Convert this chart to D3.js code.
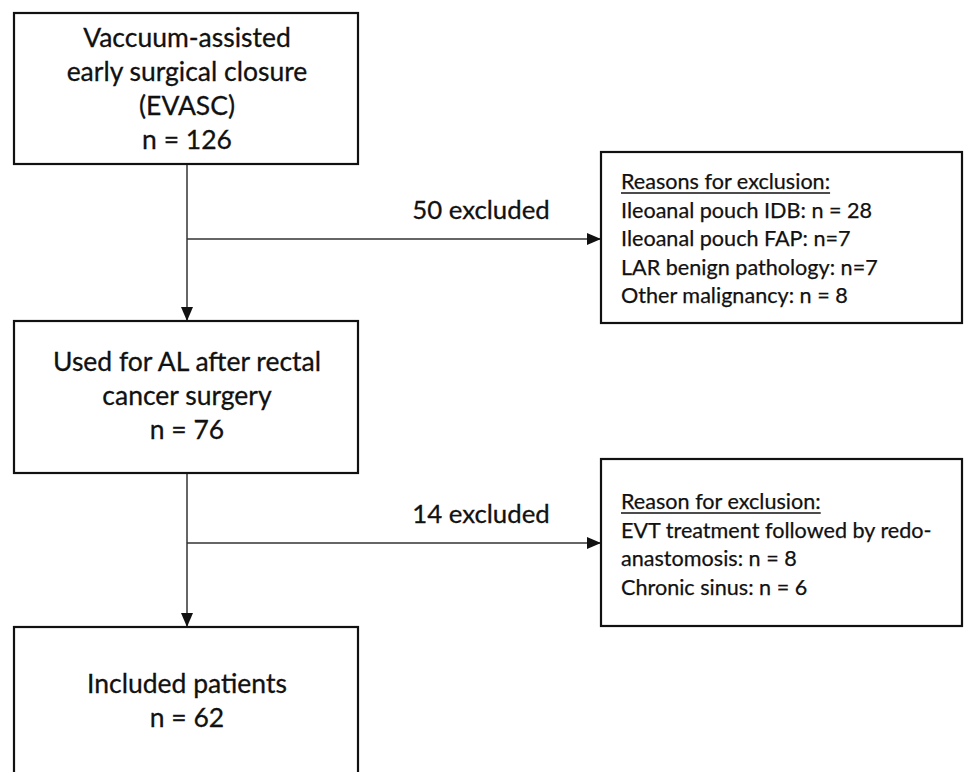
<!DOCTYPE html>
<html>
<head>
<meta charset="utf-8">
<script src="https://cdn.jsdelivr.net/npm/d3@7"></script>
<style>
  body { margin: 0; background: #fff; }
  svg { display: block; }
</style>
</head>
<body>
<div id="chart"></div>
<script>
// contenu du diagramme
var mainLabels = [
    ["Vaccuum-assisted", "early surgical closure", "(EVASC)"],
    ["Used for AL after rectal", "cancer surgery"],
    ["Included patients"]
];
var mainCounts = [126, 76, 62];

var excludedCounts = [50, 14];
var exclusionTitles = ["Reasons for exclusion:", "Reason for exclusion:"];
var exclusionLines = [
    ["Ileoanal pouch IDB: n = 28", "Ileoanal pouch FAP: n=7", "LAR benign pathology: n=7", "Other malignancy: n = 8"],
    ["EVT treatment followed by redo-", "anastomosis: n = 8", "Chronic sinus: n = 6"]
];

var width = 964,
    height = 772,
    font = "Lato, 'Open Sans', sans-serif";

var svg = d3.select("#chart").append("svg")
    .attr("width", width)
    .attr("height", height);

// grille de placement (pixels de l'image)
var x = d3.scaleLinear().domain([0, 1]).range([14, 358]);      // colonne principale
var xs = d3.scaleLinear().domain([0, 1]).range([601, 962]);    // colonne des exclusions
var mainTop = [13, 321, 627], mainBottom = [164, 473, 800];
var sideTop = [152, 459], sideBottom = [323, 626];
var arrowY = [239, 543];
var stem = 187;

svg.append("defs").append("marker")
    .attr("id", "tri")
    .attr("viewBox", "0 0 14 12")
    .attr("refX", 14).attr("refY", 6)
    .attr("markerWidth", 14).attr("markerHeight", 12)
    .attr("markerUnits", "userSpaceOnUse")
    .attr("orient", "auto")
    .append("path")
    .attr("d", "M0,0 L14,6 L0,12 Z")
    .attr("fill", "#111");

// fleches
var links = svg.append("g")
    .attr("stroke", "#333")
    .attr("stroke-width", 1.5);

for (var i = 0; i < 2; i++) {
    links.append("line")
        .attr("x1", stem).attr("y1", mainBottom[i])
        .attr("x2", stem).attr("y2", mainTop[i + 1])
        .attr("marker-end", "url(#tri)");
    links.append("line")
        .attr("x1", stem).attr("y1", arrowY[i])
        .attr("x2", xs(0)).attr("y2", arrowY[i])
        .attr("marker-end", "url(#tri)");
    svg.append("text")
        .attr("x", 481).attr("y", arrowY[i] - 20)
        .attr("text-anchor", "middle")
        .attr("font-family", font)
        .attr("font-size", 25.8)
        .attr("fill", "#111")
        .attr("stroke", "#111").attr("stroke-width", 0.3)
        .text(excludedCounts[i] + " excluded");
}

// boites principales
var mains = svg.selectAll("g.main")
    .data(mainLabels)
    .enter()
    .append("g")
    .attr("class", "main");

mains.append("rect")
    .attr("x", x(0))
    .attr("y", function(d, i) { return mainTop[i]; })
    .attr("width", x(1) - x(0))
    .attr("height", function(d, i) { return mainBottom[i] - mainTop[i]; })
    .attr("fill", "#fff")
    .attr("stroke", "#111")
    .attr("stroke-width", 2.2);

var firstLine = [47, 371, 693];
mains.each(function(d, i) {
    var lines = d.concat(["n = " + mainCounts[i]]);
    d3.select(this).selectAll("text")
        .data(lines)
        .enter()
        .append("text")
        .attr("x", (x(0) + x(1)) / 2 + 1)
        .attr("y", function(t, j) { return firstLine[i] + j * 34; })
        .attr("text-anchor", "middle")
        .attr("font-family", font)
        .attr("font-size", 26.5)
        .attr("fill", "#111")
        .attr("stroke", "#111").attr("stroke-width", 0.3)
        .text(function(t) { return t; });
});

// boites d'exclusion
var sides = svg.selectAll("g.side")
    .data(exclusionTitles)
    .enter()
    .append("g")
    .attr("class", "side");

sides.append("rect")
    .attr("x", xs(0))
    .attr("y", function(d, i) { return sideTop[i]; })
    .attr("width", xs(1) - xs(0))
    .attr("height", function(d, i) { return sideBottom[i] - sideTop[i]; })
    .attr("fill", "#fff")
    .attr("stroke", "#111")
    .attr("stroke-width", 2.2);

var titleY = [189, 509];
sides.each(function(d, i) {
    var g = d3.select(this);
    var title = g.append("text")
        .attr("x", 621).attr("y", titleY[i])
        .attr("font-family", font)
        .attr("font-size", 21.6)
        .attr("fill", "#111")
        .attr("stroke", "#111").attr("stroke-width", 0.25)
        .text(d);
    var w = title.node().getComputedTextLength();
    g.append("line")
        .attr("x1", 621).attr("x2", 621 + w)
        .attr("y1", titleY[i] + 4).attr("y2", titleY[i] + 4)
        .attr("stroke", "#111").attr("stroke-width", 1.3);
    g.selectAll("text.item")
        .data(exclusionLines[i])
        .enter()
        .append("text")
        .attr("class", "item")
        .attr("x", 621)
        .attr("y", function(t, j) { return titleY[i] + (j + 1) * 28.5; })
        .attr("font-family", font)
        .attr("font-size", 21.6)
        .attr("fill", "#111")
        .attr("stroke", "#111").attr("stroke-width", 0.25)
        .text(function(t) { return t; });
});
</script>
</body>
</html>
